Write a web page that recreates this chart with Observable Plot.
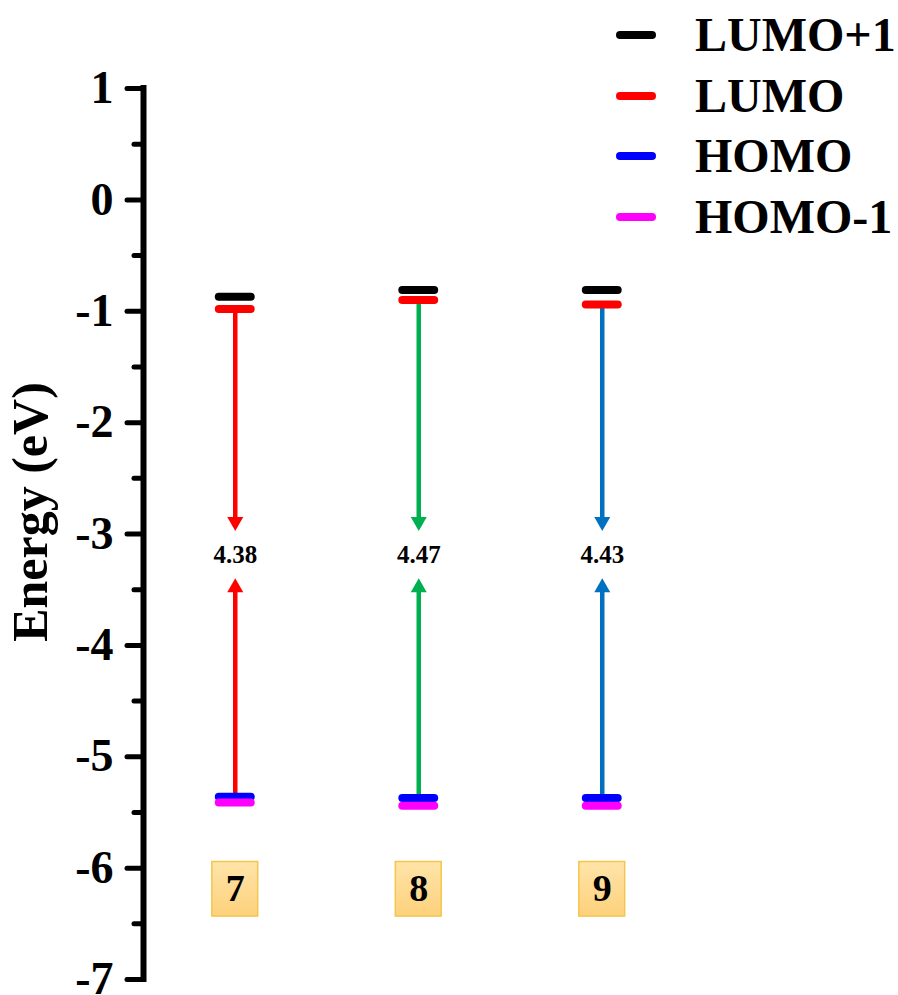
<!DOCTYPE html>
<html><head><meta charset="utf-8">
<script src="https://cdn.jsdelivr.net/npm/d3@7"></script>
<script src="https://cdn.jsdelivr.net/npm/@observablehq/plot@0.6"></script>
<style>
body{margin:0;background:#fff;}
#wrap{position:relative;width:898px;height:995px;}
#legend{position:absolute;left:616px;top:5px;font-family:"Liberation Serif","Times New Roman",serif;font-weight:bold;font-size:48px;color:#000;}
.row{display:flex;align-items:center;height:60.6px;line-height:60.6px;}
.sw{width:40px;height:8px;border-radius:4px;margin-right:39px;flex:none;}
</style></head><body><div id="wrap"><div id="legend"></div></div>
<script>
// ---- data ----
const molecules = ["7", "8", "9"];
const orbitals = ["LUMO+1", "LUMO", "HOMO", "HOMO-1"];
const orbitalColors = ["#000000", "#ff0000", "#0000ff", "#ff00ff"];
const lumoPlus1 = [-0.87, -0.81, -0.81];
const lumo = [-0.98, -0.90, -0.94];
const homo = [-5.36, -5.37, -5.37];
const homoMinus1 = [-5.41, -5.44, -5.44];
const gapLabels = ["4.38", "4.47", "4.43"];
const arrowColors = ["#ff0000", "#00b050", "#0070c0"];
const downArrowTip = -2.97;
const upArrowTip = -3.40;
const gapLabelLevel = -3.19;
const molLabelLevel = -6.19;
const yTicks = [-7, -6, -5, -4, -3, -2, -1, 0, 1];
const yMinorTicks = [-6.5, -5.5, -4.5, -3.5, -2.5, -1.5, -0.5, 0.5];
const yLabel = "Energy (eV)";

// ---- tables built from the arrays ----
const series = [lumoPlus1, lumo, homo, homoMinus1];
const levels = [];
orbitals.forEach((o, k) => molecules.forEach((m, i) => levels.push({pos: i + 1, orbital: o, energy: series[k][i]})));
const mols = molecules.map((m, i) => ({
  pos: i + 1, name: m, lumo: lumo[i], homo: homo[i], gap: gapLabels[i], color: arrowColors[i]
}));

const serif = "Liberation Serif, Times New Roman, serif";
const halfLine = 0.087;   // half length of a level line in x units
const boxHalfW = 0.125, boxHalfH = 0.245;

const chart = Plot.plot({
  width: 898, height: 995,
  marginLeft: 143, marginRight: 21, marginTop: 88, marginBottom: 16,
  x: {domain: [0.5, 4.5], axis: null},
  y: {domain: [-7, 1], axis: null},
  color: {domain: orbitals, range: orbitalColors},
  style: {fontFamily: serif, background: "white", color: "black"},
  marks: [
    // axis line
    Plot.ruleX([0.5], {y1: 1, y2: -7, stroke: "black", strokeWidth: 6, strokeLinecap: "square"}),
    Plot.axisY(yMinorTicks, {anchor: "left", tickSize: 9, tickFormat: () => "", strokeWidth: 5, strokeLinecap: "round", label: null}),
    Plot.axisY(yTicks, {anchor: "left", tickSize: 16, tickPadding: 14, fontSize: 46, fontWeight: "bold",
      fontFamily: serif, strokeWidth: 5, strokeLinecap: "round", tickFormat: d => String(d), label: null}),
    Plot.text([yLabel], {frameAnchor: "left", rotate: -90, dx: -113, dy: -22, fontSize: 50, fontWeight: "bold",
      fontFamily: serif, textAnchor: "middle", lineAnchor: "middle", fill: "black"}),
    // arrow shafts
    Plot.ruleX(mols, {x: "pos", y1: "lumo", y2: () => downArrowTip, stroke: "color", strokeWidth: 4.5, insetBottom: 8}),
    Plot.ruleX(mols, {x: "pos", y1: () => upArrowTip, y2: "homo", stroke: "color", strokeWidth: 4.5, insetTop: 8}),
    // arrow heads
    Plot.dot(mols, {x: "pos", y: () => downArrowTip, symbol: "triangle", r: 5.94, rotate: 180, dy: -9, fill: "color", stroke: "none"}),
    Plot.dot(mols, {x: "pos", y: () => upArrowTip, symbol: "triangle", r: 5.94, dy: 9, fill: "color", stroke: "none"}),
    // energy levels
    Plot.ruleY(levels, {y: "energy", x1: d => d.pos - halfLine, x2: d => d.pos + halfLine, stroke: "orbital",
      strokeWidth: 8, strokeLinecap: "round"}),
    // gap labels
    Plot.text(mols, {x: "pos", y: () => gapLabelLevel, text: "gap", fontSize: 25, fontWeight: "bold",
      fontFamily: serif, fill: "black"}),
    // molecule boxes
    Plot.rect(mols, {x1: d => d.pos - boxHalfW, x2: d => d.pos + boxHalfW,
      y1: () => molLabelLevel - boxHalfH, y2: () => molLabelLevel + boxHalfH,
      fill: "url(#boxGrad)", stroke: "#f3c64e", strokeWidth: 1.5}),
    Plot.text(mols, {x: "pos", y: () => molLabelLevel, text: "name", fontSize: 38, fontWeight: "bold",
      fontFamily: serif, fill: "black"})
  ]
});

const ns = "http://www.w3.org/2000/svg";
const defs = document.createElementNS(ns, "defs");
defs.innerHTML = '<linearGradient id="boxGrad" x1="0" y1="0" x2="0" y2="1">' +
  '<stop offset="0" stop-color="#ffe4a9"/><stop offset="1" stop-color="#fdd17c"/></linearGradient>';
chart.insertBefore(defs, chart.firstChild);
document.getElementById("wrap").insertBefore(chart, document.getElementById("legend"));

// HTML legend
const legend = document.getElementById("legend");
orbitals.forEach((o, k) => {
  const row = document.createElement("div");
  row.className = "row";
  const sw = document.createElement("span");
  sw.className = "sw";
  sw.style.background = orbitalColors[k];
  const t = document.createElement("span");
  t.textContent = o;
  row.appendChild(sw); row.appendChild(t);
  legend.appendChild(row);
});
</script></body></html>
